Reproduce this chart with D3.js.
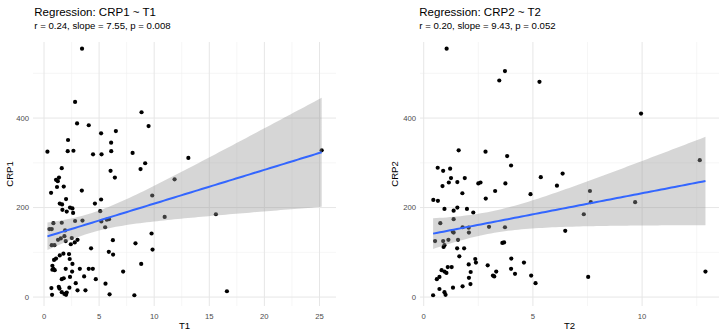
<!DOCTYPE html>
<html>
<head>
<meta charset="utf-8">
<script src="https://cdn.jsdelivr.net/npm/d3@7"></script>
<style>
  body { margin: 0; background: #fff; }
  svg { display: block; font-family: "Liberation Sans", Arial, sans-serif; }
</style>
</head>
<body>
<svg id="chart" width="727" height="336"></svg>
<script>
// values
var t1 = [3.45, 2.82, 8.85, 3.0, 4.06, 9.49, 5.18, 6.52, 2.18, 6.09, 0.31, 2.15, 2.67, 4.45, 5.22, 6.1, 8.04, 13.1,
    1.61, 9.18, 8.76, 6.04, 6.43, 11.85, 1.09, 1.36, 1.25, 1.79, 1.18, 0.64, 3.43, 2.0, 1.43, 1.64, 4.62, 5.18,
    1.67, 2.06, 2.36, 2.58, 2.64, 5.1, 0.49, 0.7, 0.85, 1.61, 2.82, 3.49, 1.91, 5.2, 5.7, 5.55, 5.9, 1.27, 1.52,
    1.85, 2.52, 1.97, 0.7, 0.95, 2.43, 2.79, 3.04, 4.27, 5.88, 6.27, 6.25, 7.18, 1.43, 1.76, 0.91, 1.09, 2.27,
    2.33, 2.58, 0.76, 0.85, 0.76, 0.97, 1.97, 2.55, 3.25, 4.06, 4.43, 3.64, 4.7, 1.61, 1.79, 2.36, 2.88, 5.58,
    0.67, 1.34, 1.4, 2.3, 3.04, 3.76, 1.61, 1.85, 2.0, 2.06, 0.73, 5.95, 9.82, 10.95, 9.76, 9.85, 8.3, 8.82, 8.2,
    25.2, 15.6, 16.6];
var crp1 = [555, 436, 413, 388, 384, 382, 366, 371, 351, 345, 325, 326, 327, 319, 319, 326, 322, 311,
    288, 299, 286, 282, 267, 263, 262, 267, 259, 247, 246, 233, 238, 219, 209, 207, 209, 218,
    195, 191, 200, 198, 188, 192, 152, 152, 165, 166, 170, 171, 149, 169, 173, 156, 174, 128, 131,
    136, 132, 125, 116, 116, 118, 122, 128, 109, 101, 95, 127, 57, 93, 97, 83, 86, 96,
    85, 74, 70, 63, 61, 60, 63, 57, 63, 63, 63, 46, 40, 40, 42, 45, 31, 30,
    20, 23, 19, 21, 15, 15, 11, 7, 5, 10, 5, 6, 227, 179, 142, 106, 120, 74, 4,
    328, 185, 13];

var t2 = [1.05, 3.72, 3.46, 5.3, 1.6, 2.83, 3.82, 4.0, 0.64, 0.89, 1.21, 1.25, 1.88, 5.36, 0.86, 1.15, 1.54,
    2.5, 2.6, 3.74, 3.27, 1.77, 0.44, 0.65, 2.84, 0.95, 1.37, 1.54, 1.98, 2.27, 0.76, 1.37, 0.52, 0.89, 0.95,
    0.91, 1.13, 1.33, 1.37, 1.57, 1.78, 2.06, 2.07, 2.99, 3.72, 3.6, 3.68, 1.53, 1.85, 1.63, 1.1, 1.28, 2.06,
    2.36, 2.39, 2.93, 3.32, 3.17, 3.23, 4.01, 4.0, 4.18, 2.15, 2.07, 2.14, 0.82, 0.95, 1.04, 0.72, 0.6, 1.34,
    1.78, 0.72, 0.95, 1.0, 0.43, 4.89, 4.59, 4.92, 5.12, 9.95, 12.64, 6.36, 6.1, 7.61, 7.65, 9.68, 7.33, 6.48,
    7.53, 12.9];
var crp2 = [555, 505, 484, 481, 328, 325, 315, 294, 289, 282, 287, 266, 266, 268, 248, 256, 257,
    254, 256, 254, 237, 232, 217, 215, 220, 197, 193, 200, 197, 189, 165, 174, 125, 125, 116,
    112, 128, 146, 144, 128, 156, 155, 144, 157, 156, 121, 122, 109, 109, 91, 67, 67, 73,
    85, 77, 71, 57, 48, 46, 86, 63, 52, 56, 43, 29, 60, 57, 54, 45, 40, 21,
    24, 18, 11, 5, 4, 230, 77, 48, 31, 410, 306, 276, 249, 237, 212, 212, 185, 148,
    45, 57];

// fitted lines: slope from the subtitle, intercept
var slopes = [7.55, 9.43];
var intercepts = [133.3, 137.7];

var titles = ["Regression: CRP1 ~ T1", "Regression: CRP2 ~ T2"];
var subtitles = ["r = 0.24, slope = 7.55, p = 0.008", "r = 0.20, slope = 9.43, p = 0.052"];
var xLabels = ["T1", "T2"];
var yLabels = ["CRP1", "CRP2"];
var xTicks1 = [0, 5, 10, 15, 20, 25];
var xTicks2 = [0, 5, 10];
var yTicks = [0, 200, 400];

var svg = d3.select('#chart');

// t quantile (Cornish-Fisher), good enough for the 95% band
function tQuant(df) {
    var z = 1.959964;
    return z + (z * z * z + z) / (4 * df) +
        (5 * Math.pow(z, 5) + 16 * z * z * z + 3 * z) / (96 * df * df);
}

// line plus 95% confidence band, spread taken from the points
function linFit(xs, ys, a, b) {
    var n = xs.length,
        xbar = d3.mean(xs);
    var sxx = 0, sse = 0;
    for (var i = 0; i < n; i++) {
        var r = ys[i] - (a + b * xs[i]);
        sxx += (xs[i] - xbar) * (xs[i] - xbar);
        sse += r * r;
    }
    var s = Math.sqrt(sse / (n - 2)), tq = tQuant(n - 2);
    return function(x) {
        var fit = a + b * x;
        var se = s * Math.sqrt(1 / n + (x - xbar) * (x - xbar) / sxx);
        return { x: x, y: fit, lo: fit - tq * se, hi: fit + tq * se };
    };
}

function panel(p) {
    var g = svg.append('g');
    var x = d3.scaleLinear().domain(p.xDomain).range([p.left, p.right]);
    var y = d3.scaleLinear().domain([-20, 570]).range([p.bottom, p.top]);

    // minor grid
    var xMinor = p.xTicks.map(function(d) { return d + 2.5; }).filter(function(d) { return d < p.xDomain[1]; });
    var yMinor = [100, 300, 500];
    g.selectAll('.xmin').data(xMinor).enter().append('line')
        .attr('x1', x).attr('x2', x).attr('y1', p.top).attr('y2', p.bottom)
        .attr('stroke', '#f0f0f0').attr('stroke-width', 0.6);
    g.selectAll('.ymin').data(yMinor).enter().append('line')
        .attr('y1', y).attr('y2', y).attr('x1', p.left).attr('x2', p.right)
        .attr('stroke', '#f0f0f0').attr('stroke-width', 0.6);
    // major grid
    g.selectAll('.xmaj').data(p.xTicks).enter().append('line')
        .attr('x1', x).attr('x2', x).attr('y1', p.top).attr('y2', p.bottom)
        .attr('stroke', '#e6e6e6').attr('stroke-width', 1);
    g.selectAll('.ymaj').data(yTicks).enter().append('line')
        .attr('y1', y).attr('y2', y).attr('x1', p.left).attr('x2', p.right)
        .attr('stroke', '#e6e6e6').attr('stroke-width', 1);

    // tick labels
    g.selectAll('.xt').data(p.xTicks).enter().append('text')
        .attr('x', x).attr('y', p.bottom + 12.5)
        .attr('text-anchor', 'middle').attr('font-size', 7.7).attr('fill', '#4d4d4d')
        .text(function(d) { return d; });
    g.selectAll('.yt').data(yTicks).enter().append('text')
        .attr('x', p.left - 4).attr('y', function(d) { return y(d) + 2.8; })
        .attr('text-anchor', 'end').attr('font-size', 7.7).attr('fill', '#4d4d4d')
        .text(function(d) { return d; });

    // points
    var pts = d3.zip(p.xs, p.ys);
    g.selectAll('circle').data(pts).enter().append('circle')
        .attr('cx', function(d) { return x(d[0]); })
        .attr('cy', function(d) { return y(d[1]); })
        .attr('r', 2.1).attr('fill', '#000');

    // smooth with band
    var f = linFit(p.xs, p.ys, p.a, p.b);
    var ext = d3.extent(p.xs);
    var band = d3.range(0, 81).map(function(i) {
        return f(ext[0] + (ext[1] - ext[0]) * i / 80);
    });
    g.append('path').datum(band)
        .attr('d', d3.area().x(function(d) { return x(d.x); })
            .y0(function(d) { return y(d.lo); }).y1(function(d) { return y(d.hi); }))
        .attr('fill', '#999999').attr('fill-opacity', 0.4);
    g.append('path').datum(band)
        .attr('d', d3.line().x(function(d) { return x(d.x); }).y(function(d) { return y(d.y); }))
        .attr('fill', 'none').attr('stroke', '#3366FF').attr('stroke-width', 2);

    // titles
    g.append('text').attr('x', p.titleX).attr('y', 15.5)
        .attr('font-size', 11.5).attr('fill', '#000').text(p.title);
    g.append('text').attr('x', p.titleX).attr('y', 29)
        .attr('font-size', 9.6).attr('fill', '#000').text(p.subtitle);
    g.append('text').attr('x', (p.left + p.right) / 2).attr('y', 329)
        .attr('text-anchor', 'middle').attr('font-size', 9.6).attr('fill', '#000').text(p.xLabel);
    g.append('text')
        .attr('transform', 'translate(' + p.yLabelX + ',' + (p.top + p.bottom) / 2 + ') rotate(-90)')
        .attr('text-anchor', 'middle').attr('font-size', 9.6).attr('fill', '#000').text(p.yLabel);
}

panel({
    xs: t1, ys: crp1, a: intercepts[0], b: slopes[0], xTicks: xTicks1, xDomain: [-1, 26.5],
    left: 33, right: 336, top: 42, bottom: 306, titleX: 34.3, yLabelX: 13,
    title: titles[0], subtitle: subtitles[0], xLabel: xLabels[0], yLabel: yLabels[0]
});
panel({
    xs: t2, ys: crp2, a: intercepts[1], b: slopes[1], xTicks: xTicks2, xDomain: [-0.17, 13.52],
    left: 420, right: 719, top: 42, bottom: 306, titleX: 419.3, yLabelX: 397.5,
    title: titles[1], subtitle: subtitles[1], xLabel: xLabels[1], yLabel: yLabels[1]
});
</script>
</body>
</html>
